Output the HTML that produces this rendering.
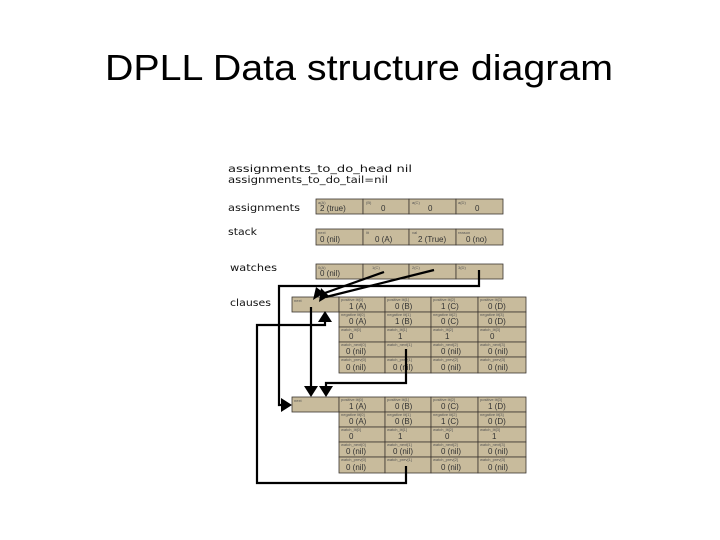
<!DOCTYPE html>
<html><head><meta charset="utf-8"><style>
html,body{margin:0;padding:0;background:#fff;width:720px;height:540px;overflow:hidden}
svg{display:block}
.c{fill:#c8bb9c;stroke:#3a3530;stroke-width:0.8}
.s{font-family:"Liberation Sans",sans-serif;font-size:4px;fill:#555}
.v{font-family:"Liberation Sans",sans-serif;font-size:8px;fill:#333}
.l{font-family:"DejaVu Sans","Liberation Sans",sans-serif;font-size:10px;fill:#111}
</style></head><body>
<svg width="720" height="540" viewBox="0 0 720 540" xmlns="http://www.w3.org/2000/svg">
<text x="359" y="80" text-anchor="middle" font-family="Liberation Sans, sans-serif" font-size="36" textLength="508" lengthAdjust="spacingAndGlyphs" fill="#000">DPLL Data structure diagram</text>

<text class="l" x="228" y="172" textLength="184" lengthAdjust="spacingAndGlyphs">assignments_to_do_head  nil</text>
<text class="l" x="228" y="183" textLength="160" lengthAdjust="spacingAndGlyphs">assignments_to_do_tail=nil</text>
<text class="l" x="228" y="211" textLength="72" lengthAdjust="spacingAndGlyphs">assignments</text>
<text class="l" x="228" y="235" textLength="29" lengthAdjust="spacingAndGlyphs">stack</text>
<text class="l" x="230" y="271" textLength="47" lengthAdjust="spacingAndGlyphs">watches</text>
<text class="l" x="230" y="306" textLength="41" lengthAdjust="spacingAndGlyphs">clauses</text>

<!-- assignments -->
<g>
<rect class="c" x="316" y="199" width="47" height="15"/><rect class="c" x="363" y="199" width="46" height="15"/><rect class="c" x="409" y="199" width="47" height="15"/><rect class="c" x="456" y="199" width="47" height="15"/>
<text class="s" x="318" y="204">a(A)</text><text class="v" x="320" y="211">2 (true)</text>
<text class="s" x="366" y="204">(B)</text><text class="v" x="381" y="211">0</text>
<text class="s" x="412" y="204">a(C)</text><text class="v" x="428" y="211">0</text>
<text class="s" x="458" y="204">a(D)</text><text class="v" x="475" y="211">0</text>
</g>
<!-- stack -->
<g>
<rect class="c" x="316" y="229" width="47" height="16"/><rect class="c" x="363" y="229" width="46" height="16"/><rect class="c" x="409" y="229" width="47" height="16"/><rect class="c" x="456" y="229" width="47" height="16"/>
<text class="s" x="318" y="234">next</text><text class="v" x="320" y="242">0 (nil)</text>
<text class="s" x="366" y="234">lit</text><text class="v" x="375" y="242">0 (A)</text>
<text class="s" x="412" y="234">val</text><text class="v" x="418" y="242">2 (True)</text>
<text class="s" x="458" y="234">reason</text><text class="v" x="466" y="242">0 (no)</text>
</g>
<!-- watches -->
<g>
<rect class="c" x="316" y="264" width="47" height="15"/><rect class="c" x="363" y="264" width="46" height="15"/><rect class="c" x="409" y="264" width="47" height="15"/><rect class="c" x="456" y="264" width="47" height="15"/>
<text class="s" x="318" y="269">0(A)</text><text class="v" x="320" y="276">0 (nil)</text>
<text class="s" x="372" y="269">1(C)</text>
<text class="s" x="412" y="269">2(C)</text>
<text class="s" x="458" y="269">3(D)</text>
</g>

<!-- clause block 1 -->
<g>
<rect class="c" x="292" y="297" width="47" height="15"/>
<text class="s" x="294" y="302">next</text>
<rect class="c" x="339" y="297" width="46" height="15"/><rect class="c" x="385" y="297" width="46" height="15"/><rect class="c" x="431" y="297" width="47" height="15"/><rect class="c" x="478" y="297" width="48" height="15"/>
<rect class="c" x="339" y="312" width="46" height="15"/><rect class="c" x="385" y="312" width="46" height="15"/><rect class="c" x="431" y="312" width="47" height="15"/><rect class="c" x="478" y="312" width="48" height="15"/>
<rect class="c" x="339" y="327" width="46" height="15"/><rect class="c" x="385" y="327" width="46" height="15"/><rect class="c" x="431" y="327" width="47" height="15"/><rect class="c" x="478" y="327" width="48" height="15"/>
<rect class="c" x="339" y="342" width="46" height="15"/><rect class="c" x="385" y="342" width="46" height="15"/><rect class="c" x="431" y="342" width="47" height="15"/><rect class="c" x="478" y="342" width="48" height="15"/>
<rect class="c" x="339" y="357" width="46" height="16"/><rect class="c" x="385" y="357" width="46" height="16"/><rect class="c" x="431" y="357" width="47" height="16"/><rect class="c" x="478" y="357" width="48" height="16"/>
<text class="s" x="341" y="301">positive lit[0]</text><text class="v" x="349" y="309">1 (A)</text>
<text class="s" x="387" y="301">positive lit[1]</text><text class="v" x="395" y="309">0 (B)</text>
<text class="s" x="433" y="301">positive lit[2]</text><text class="v" x="441" y="309">1 (C)</text>
<text class="s" x="480" y="301">positive lit[3]</text><text class="v" x="488" y="309">0 (D)</text>
<text class="s" x="341" y="316">negative lit[0]</text><text class="v" x="349" y="324">0 (A)</text>
<text class="s" x="387" y="316">negative lit[1]</text><text class="v" x="395" y="324">1 (B)</text>
<text class="s" x="433" y="316">negative lit[2]</text><text class="v" x="441" y="324">0 (C)</text>
<text class="s" x="480" y="316">negative lit[3]</text><text class="v" x="488" y="324">0 (D)</text>
<text class="s" x="341" y="331">watch_lit[0]</text><text class="v" x="349" y="339">0</text>
<text class="s" x="387" y="331">watch_lit[1]</text><text class="v" x="398" y="339">1</text>
<text class="s" x="433" y="331">watch_lit[2]</text><text class="v" x="445" y="339">1</text>
<text class="s" x="480" y="331">watch_lit[3]</text><text class="v" x="490" y="339">0</text>
<text class="s" x="341" y="346">watch_next[0]</text><text class="v" x="346" y="354">0 (nil)</text>
<text class="s" x="387" y="346">watch_next[1]</text>
<text class="s" x="433" y="346">watch_next[2]</text><text class="v" x="441" y="354">0 (nil)</text>
<text class="s" x="480" y="346">watch_next[3]</text><text class="v" x="488" y="354">0 (nil)</text>
<text class="s" x="341" y="361">watch_prev[0]</text><text class="v" x="346" y="370">0 (nil)</text>
<text class="s" x="387" y="361">watch_prev[1]</text><text class="v" x="393" y="370">0 (nil)</text>
<text class="s" x="433" y="361">watch_prev[2]</text><text class="v" x="441" y="370">0 (nil)</text>
<text class="s" x="480" y="361">watch_prev[3]</text><text class="v" x="488" y="370">0 (nil)</text>
</g>

<!-- clause block 2 -->
<g>
<rect class="c" x="292" y="397" width="47" height="15"/>
<text class="s" x="294" y="402">next</text>
<rect class="c" x="339" y="397" width="46" height="15"/><rect class="c" x="385" y="397" width="46" height="15"/><rect class="c" x="431" y="397" width="47" height="15"/><rect class="c" x="478" y="397" width="48" height="15"/>
<rect class="c" x="339" y="412" width="46" height="15"/><rect class="c" x="385" y="412" width="46" height="15"/><rect class="c" x="431" y="412" width="47" height="15"/><rect class="c" x="478" y="412" width="48" height="15"/>
<rect class="c" x="339" y="427" width="46" height="15"/><rect class="c" x="385" y="427" width="46" height="15"/><rect class="c" x="431" y="427" width="47" height="15"/><rect class="c" x="478" y="427" width="48" height="15"/>
<rect class="c" x="339" y="442" width="46" height="15"/><rect class="c" x="385" y="442" width="46" height="15"/><rect class="c" x="431" y="442" width="47" height="15"/><rect class="c" x="478" y="442" width="48" height="15"/>
<rect class="c" x="339" y="457" width="46" height="16"/><rect class="c" x="385" y="457" width="46" height="16"/><rect class="c" x="431" y="457" width="47" height="16"/><rect class="c" x="478" y="457" width="48" height="16"/>
<text class="s" x="341" y="401">positive lit[0]</text><text class="v" x="349" y="409">1 (A)</text>
<text class="s" x="387" y="401">positive lit[1]</text><text class="v" x="395" y="409">0 (B)</text>
<text class="s" x="433" y="401">positive lit[2]</text><text class="v" x="441" y="409">0 (C)</text>
<text class="s" x="480" y="401">positive lit[3]</text><text class="v" x="488" y="409">1 (D)</text>
<text class="s" x="341" y="416">negative lit[0]</text><text class="v" x="349" y="424">0 (A)</text>
<text class="s" x="387" y="416">negative lit[1]</text><text class="v" x="395" y="424">0 (B)</text>
<text class="s" x="433" y="416">negative lit[2]</text><text class="v" x="441" y="424">1 (C)</text>
<text class="s" x="480" y="416">negative lit[3]</text><text class="v" x="488" y="424">0 (D)</text>
<text class="s" x="341" y="431">watch_lit[0]</text><text class="v" x="349" y="439">0</text>
<text class="s" x="387" y="431">watch_lit[1]</text><text class="v" x="398" y="439">1</text>
<text class="s" x="433" y="431">watch_lit[2]</text><text class="v" x="445" y="439">0</text>
<text class="s" x="480" y="431">watch_lit[3]</text><text class="v" x="492" y="439">1</text>
<text class="s" x="341" y="446">watch_next[0]</text><text class="v" x="346" y="454">0 (nil)</text>
<text class="s" x="387" y="446">watch_next[1]</text><text class="v" x="393" y="454">0 (nil)</text>
<text class="s" x="433" y="446">watch_next[2]</text><text class="v" x="441" y="454">0 (nil)</text>
<text class="s" x="480" y="446">watch_next[3]</text><text class="v" x="488" y="454">0 (nil)</text>
<text class="s" x="341" y="461">watch_prev[0]</text><text class="v" x="346" y="470">0 (nil)</text>
<text class="s" x="387" y="461">watch_prev[1]</text>
<text class="s" x="433" y="461">watch_prev[2]</text><text class="v" x="441" y="470">0 (nil)</text>
<text class="s" x="480" y="461">watch_prev[3]</text><text class="v" x="488" y="470">0 (nil)</text>
</g>

<!-- connectors -->
<g stroke="#000" stroke-width="2.2" fill="none">
<line x1="384" y1="272" x2="322" y2="294"/>
<line x1="434" y1="270" x2="326" y2="297"/>
<polyline points="479,270 479,286 279,286 279,405 282,405"/>
<line x1="311" y1="307" x2="311" y2="386"/>
<polyline points="406,349 406,383 326,383 326,388"/>
<polyline points="406,466 406,483 257,483 257,325 325,325 325,320"/>
</g>
<g fill="#000">
<polygon points="313,300 316,287 324,293"/>
<polygon points="319,302 321,288 329,296"/>
<polygon points="292,405 281,398 281,412"/>
<polygon points="311,397 304,386 318,386"/>
<polygon points="326,397 319,386 333,386"/>
<polygon points="325,311 318,322 332,322"/>
</g>
</svg>
</body></html>
